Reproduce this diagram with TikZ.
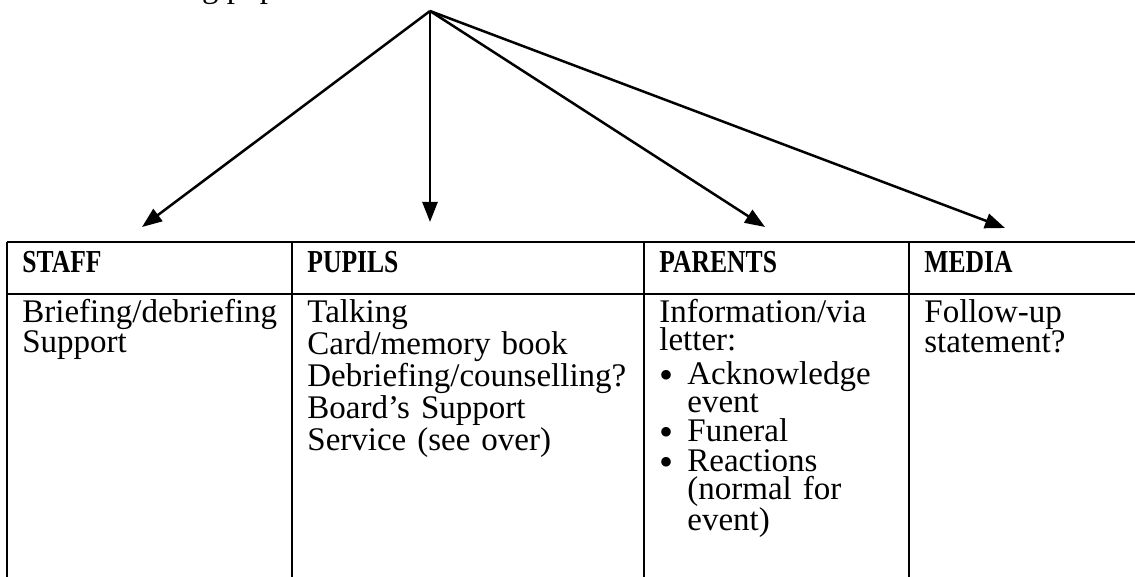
\documentclass[tikz,border=0pt]{standalone}
\usepackage{fontspec}
\setmainfont{Liberation Serif}
\usetikzlibrary{arrows.meta}

\begin{document}
\begin{tikzpicture}[x=0.5pt,y=-0.5pt]
    \def\ty{242}
    \def\my{294}
    \def\hy{272}
    \def\by{322}
    \def\xa{22}
    \def\xb{307}
    \def\xc{659}
    \def\xd{924}

    \tikzstyle{head}=[anchor=base west,inner sep=0pt,font=\fontsize{16pt}{16pt}\selectfont\bfseries\addfontfeatures{FakeStretch=0.8}]
    \tikzstyle{word}=[anchor=base west,inner sep=0pt,align=left,font=\fontsize{16.5pt}{14pt}\selectfont]
    \tikzstyle{dot}=[anchor=base west,inner sep=0pt,font=\fontsize{20pt}{20pt}\selectfont]
    \tikzstyle{rule}=[draw=black,line width=0.9pt]

    \useasboundingbox (0,0) rectangle (1135,577);
    \clip (0,0) rectangle (1135,577);

    \node[word] (frag) at (176,-2) {ing pop};

    % table
    \draw [rule] (7,\ty) -- (1135,\ty);
    \draw [rule] (7,\my) -- (1135,\my);
    \draw [rule] (7,\ty) -- (7,577);
    \draw [rule] (292,\ty) -- (292,577);
    \draw [rule] (644,\ty) -- (644,577);
    \draw [rule] (909,\ty) -- (909,577);

    \node[head] (staff) at (\xa,\hy) {STAFF};
    \node[head] (pupils) at (\xb,\hy) {PUPILS};
    \node[head] (parents) at (\xc,\hy) {PARENTS};
    \node[head] (media) at (\xd,\hy) {MEDIA};

    \node[word,text width=135pt] (staffb) at (\xa,\by) {Briefing/debriefing\\Support};
    \node[word,text width=165pt] (pupilsb) at (\xb,\by) {Talking\\Card/memory book\\Debriefing/counselling?\\Board’s Support\\Service (see over)};
    \node[word,text width=120pt] (parentsb) at (\xc,\by) {Information/via\\letter:};
    \node[word,text width=100pt] (mediab) at (\xd,\by) {Follow-up\\statement?};

    \node[dot] (dot1) at (659,388) {\textbullet};
    \node[word,text width=105pt] (item1) at (687,384) {Acknowledge\\event};
    \node[dot] (dot2) at (659,445) {\textbullet};
    \node[word,text width=105pt] (item2) at (687,441) {Funeral};
    \node[dot] (dot3) at (659,475) {\textbullet};
    \node[word,text width=105pt] (item3) at (687,471) {Reactions\\(normal for\\event)};

    % arrows
    \coordinate (top) at (430,11);
    \coordinate (tostaff) at (142,227);
    \coordinate (topupils) at (430,222);
    \coordinate (toparents) at (765,227);
    \coordinate (tomedia) at (1005,228);

    \pgfsetarrowsend{Triangle[length=10pt,width=7.5pt]}
    \tikzstyle{fwd} = [draw=black, line width=1.25pt, line join=round]

    \draw [fwd] (top) -- (tostaff);
    \draw [fwd] (top) -- (topupils);
    \draw [fwd] (top) -- (toparents);
    \draw [fwd] (top) -- (tomedia);

\end{tikzpicture}
\end{document}
